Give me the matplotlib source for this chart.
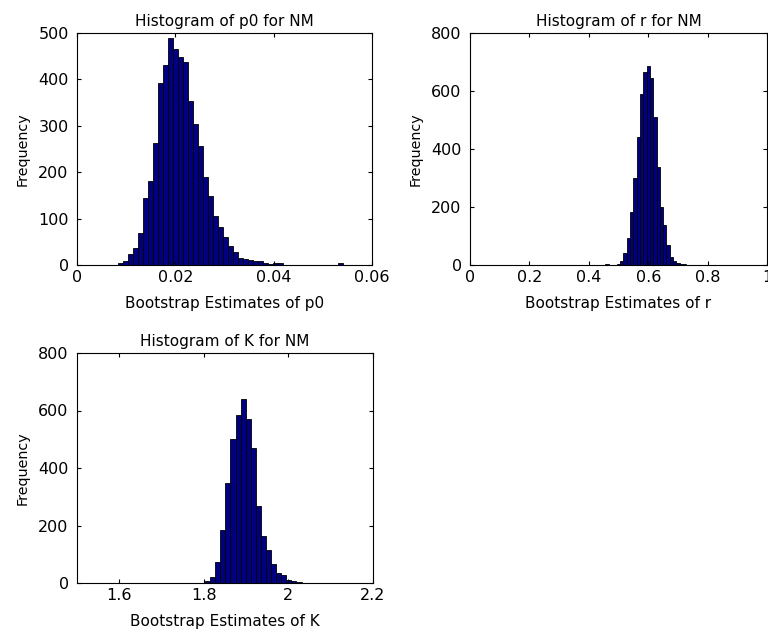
import matplotlib
matplotlib.use("Agg")
import matplotlib.pyplot as plt
from matplotlib.ticker import FuncFormatter

# ---------------- data ----------------
# p0 histogram (bin centres and counts)
p0_width = 0.00102
p0_centers = [0.00878 + p0_width * k for k in range(46)]
p0_counts = [4, 9, 23, 36, 70, 145, 181, 264, 392, 430,
             489, 465, 448, 437, 353, 303, 257, 190, 149, 106,
             81, 61, 40, 29, 16, 14, 11, 9, 8, 4,
             3, 5, 4, 1, 0, 0, 0, 0, 0, 0,
             0, 0, 0, 0, 4, 0]

# r histogram
r_width = 0.0112
r_centers = [0.461] + [0.600 + r_width * k for k in range(-9, 12)]
r_counts = [4,
            5, 14, 40, 92, 184, 300, 443, 589, 667, 687,
            644, 512, 339, 201, 138, 69, 29, 14, 8, 4, 2]

# K histogram
K_width = 0.012
K_centers = [1.809 + K_width * k for k in range(19)]
K_counts = [6, 21, 73, 183, 348, 502, 585, 641, 572, 470,
            267, 162, 116, 66, 35, 29, 12, 6, 3]

titles = ["Histogram of p0 for NM", "Histogram of r for NM", "Histogram of K for NM"]
xlabels = ["Bootstrap Estimates of p0", "Bootstrap Estimates of r", "Bootstrap Estimates of K"]
ylabel = "Frequency"

xlims = [(0, 0.06), (0, 1), (1.5, 2.2)]
xticks = [[0, 0.02, 0.04, 0.06], [0, 0.2, 0.4, 0.6, 0.8, 1], [1.6, 1.8, 2.0, 2.2]]
ylims = [(0, 500), (0, 800), (0, 800)]
yticks = [[0, 100, 200, 300, 400, 500], [0, 200, 400, 600, 800], [0, 200, 400, 600, 800]]

# ---------------- plot ----------------
plt.rcParams['font.family'] = ['DejaVu Sans']

W, H = 768, 638
fig = plt.figure(figsize=(W / 100, H / 100), dpi=100)

def rect(l, t, r, b):
    return [l / W, 1 - b / H, (r - l) / W, (b - t) / H]

axes = [fig.add_axes(rect(77, 33, 372, 265)),
        fig.add_axes(rect(470, 33, 767, 265)),
        fig.add_axes(rect(77, 353, 373, 583))]

data = [(p0_centers, p0_counts, p0_width),
        (r_centers, r_counts, r_width),
        (K_centers, K_counts, K_width)]

fmt = FuncFormatter(lambda v, p: "%g" % round(v, 6))

for ax, (c, n, w), t, xl, xlim, xt, ylim, yt in zip(
        axes, data, titles, xlabels, xlims, xticks, ylims, yticks):
    ax.bar(c, n, width=w, color='#000080', edgecolor='black', linewidth=0.6, align='center')
    ax.set_xlim(*xlim)
    ax.set_ylim(*ylim)
    ax.set_xticks(xt)
    ax.set_yticks(yt)
    ax.xaxis.set_major_formatter(fmt)
    ax.yaxis.set_major_formatter(fmt)
    ax.tick_params(direction='in', length=3, width=0.8, top=True, right=True,
                   labelsize=11.5)
    ax.tick_params(axis='x', pad=3.5)
    ax.tick_params(axis='y', pad=6)
    for s in ax.spines.values():
        s.set_linewidth(0.8)
    ax.set_title(t, fontsize=11, pad=5)
    ax.set_xlabel(xl, fontsize=11, labelpad=8)
    ax.set_ylabel(ylabel, fontsize=10.3, labelpad=6)

fig.savefig("out.png", dpi=100)
